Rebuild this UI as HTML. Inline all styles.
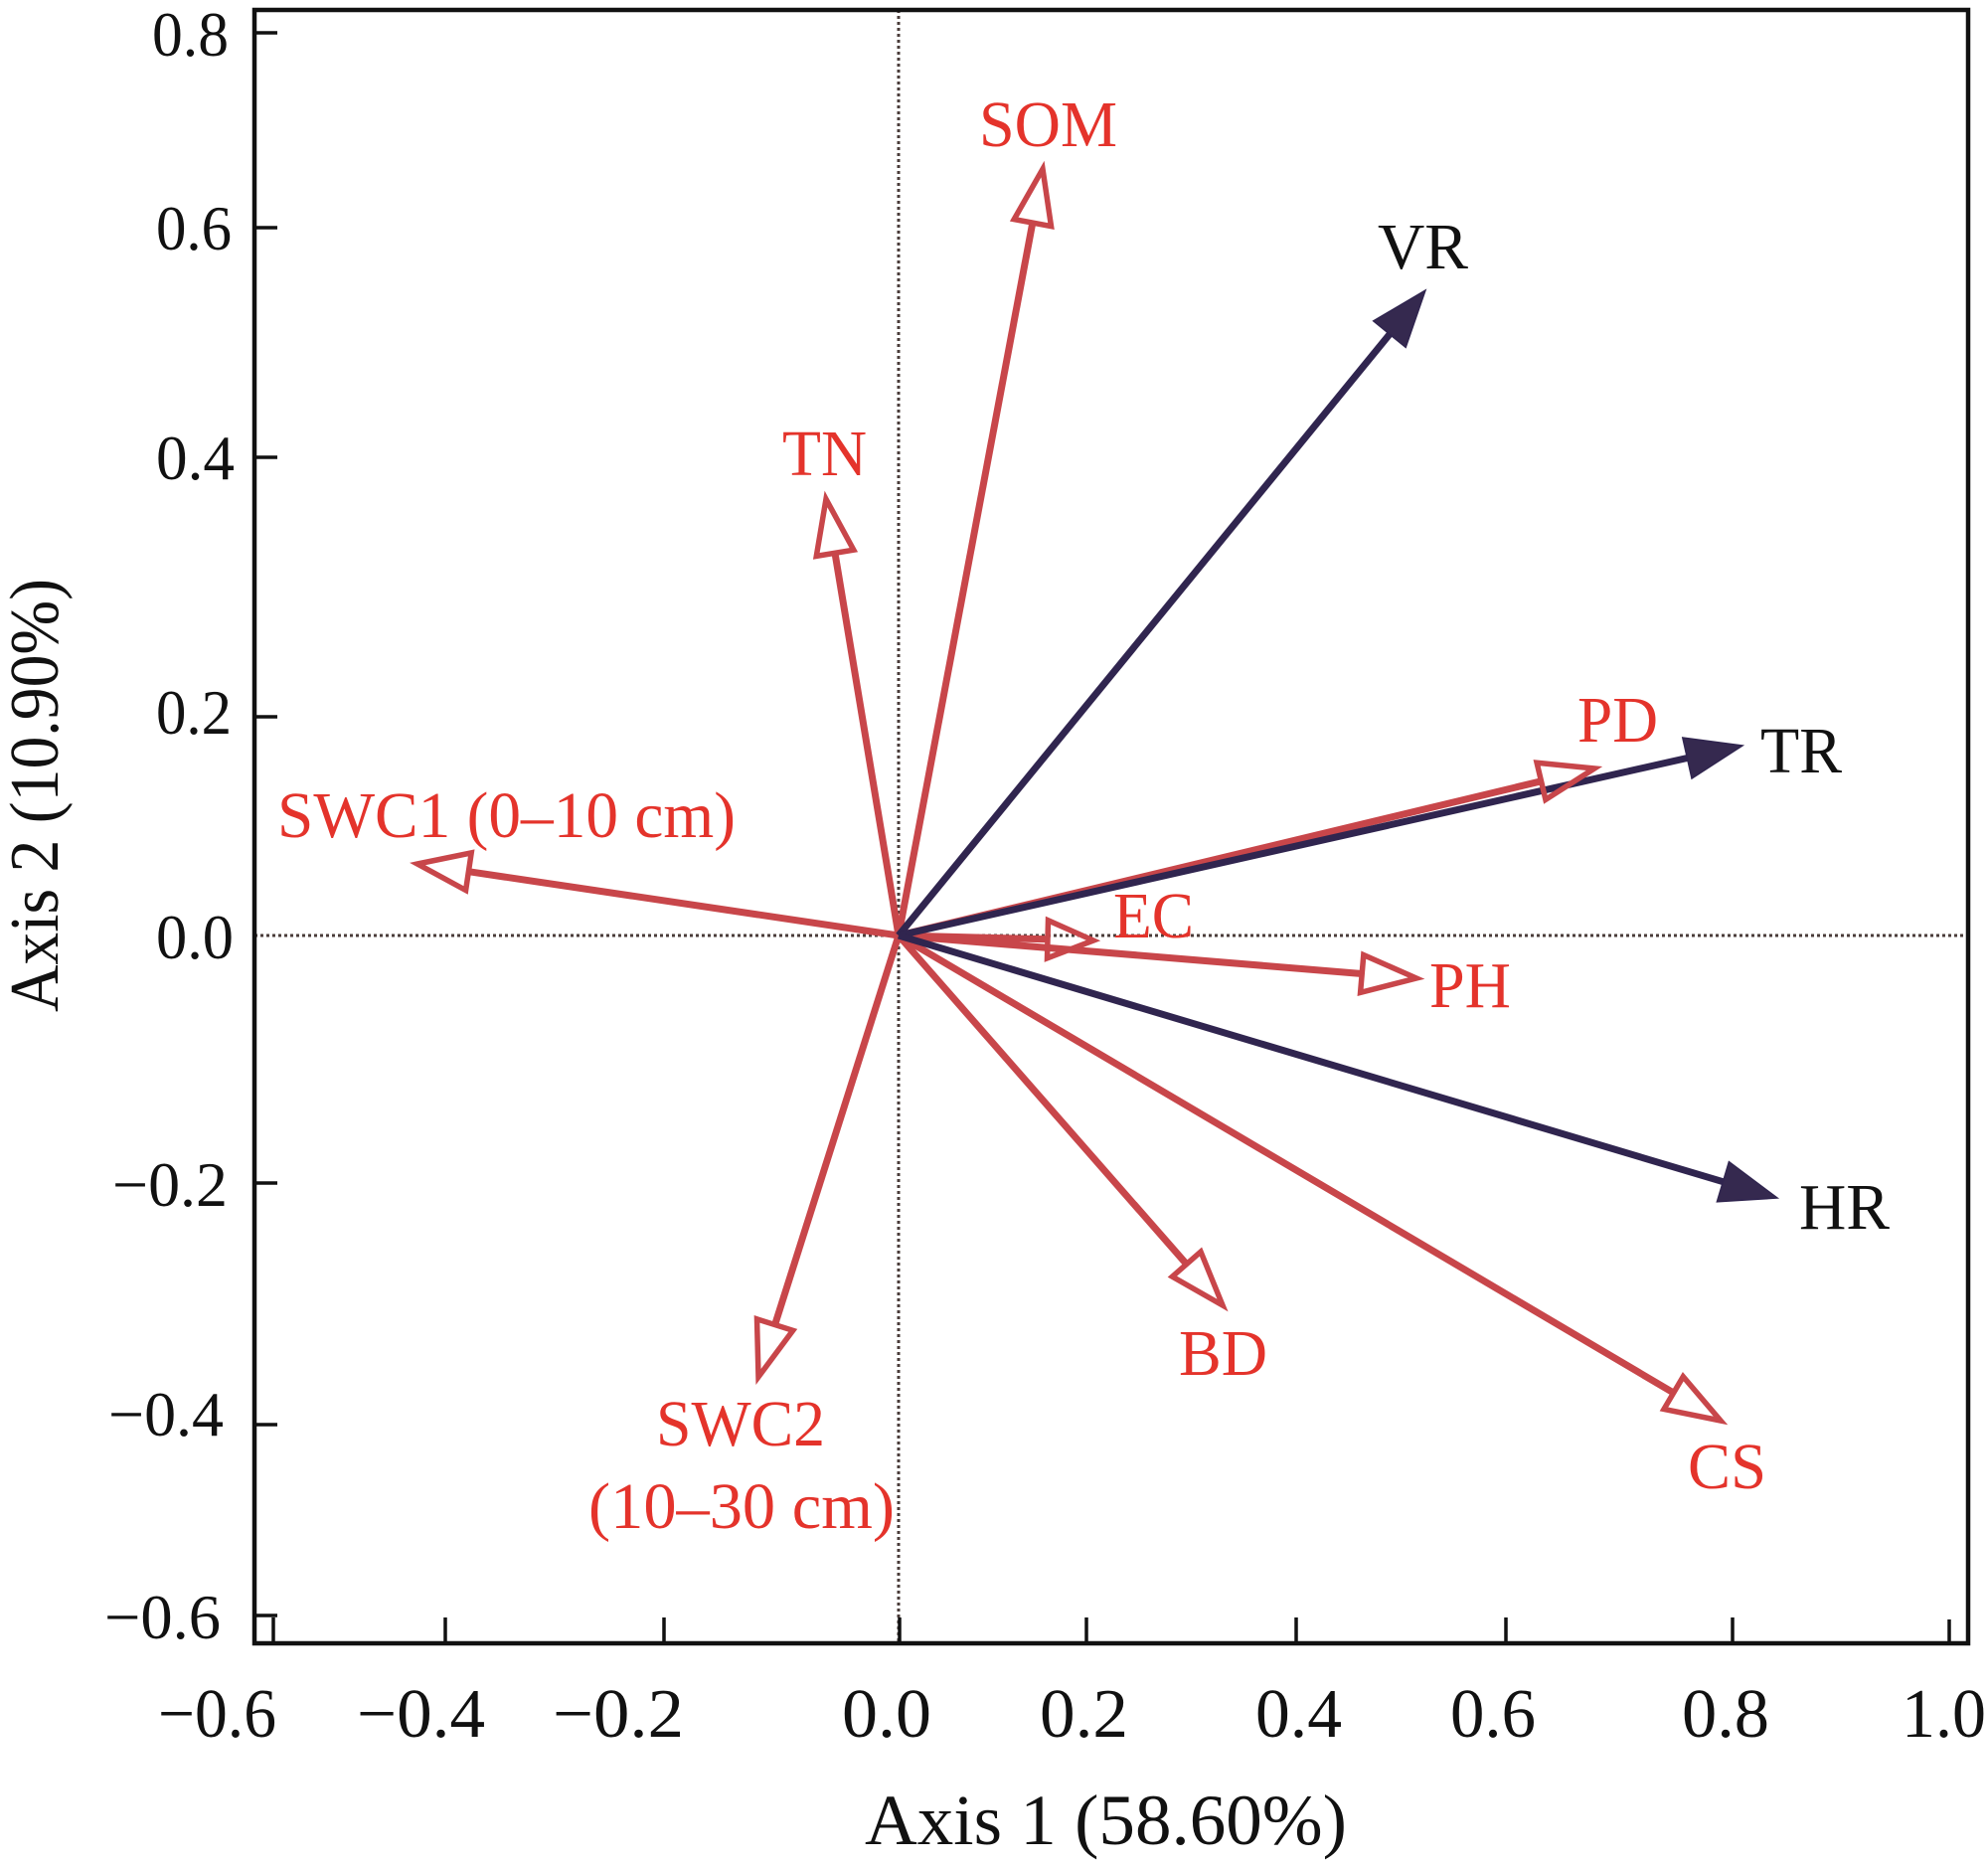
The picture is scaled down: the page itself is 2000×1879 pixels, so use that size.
<!DOCTYPE html>
<html><head><meta charset="utf-8"><style>
html,body{margin:0;padding:0;background:#fff;}
svg{display:block;}
text{font-family:"Liberation Serif","Times New Roman",Times,serif;}
</style></head><body>
<svg width="2000" height="1879" viewBox="0 0 2000 1879" xmlns="http://www.w3.org/2000/svg">
<rect width="2000" height="1879" fill="#fff"/>
<!-- dotted zero lines -->
<line x1="904" y1="10" x2="904" y2="1653" stroke="#4a3c3a" stroke-width="3" stroke-dasharray="3 3"/>
<line x1="256" y1="941" x2="1980" y2="941" stroke="#4a3c3a" stroke-width="3" stroke-dasharray="3 3"/>

<!-- frame -->
<rect x="256" y="10" width="1724" height="1643" fill="none" stroke="#111" stroke-width="4.5"/>
<!-- y ticks -->
<g stroke="#111" stroke-width="3.5">
<line x1="256" y1="33" x2="279" y2="33"/>
<line x1="256" y1="229" x2="279" y2="229"/>
<line x1="256" y1="460" x2="279" y2="460"/>
<line x1="256" y1="721" x2="279" y2="721"/>
<line x1="256" y1="1190" x2="279" y2="1190"/>
<line x1="256" y1="1433" x2="279" y2="1433"/>
<line x1="256" y1="1625" x2="279" y2="1625"/>
<!-- x ticks -->
<line x1="275" y1="1653" x2="275" y2="1627"/>
<line x1="448" y1="1653" x2="448" y2="1627"/>
<line x1="668" y1="1653" x2="668" y2="1627"/>
<line x1="905" y1="1653" x2="905" y2="1627"/>
<line x1="1093" y1="1653" x2="1093" y2="1627"/>
<line x1="1304" y1="1653" x2="1304" y2="1627"/>
<line x1="1515" y1="1653" x2="1515" y2="1627"/>
<line x1="1743" y1="1653" x2="1743" y2="1627"/>
<line x1="1961" y1="1653" x2="1961" y2="1629"/>
</g>

<!-- y tick labels -->
<g fill="#111" font-size="64">
<text x="153" y="56" textLength="77" lengthAdjust="spacingAndGlyphs">0.8</text>
<text x="157" y="251" textLength="76" lengthAdjust="spacingAndGlyphs">0.6</text>
<text x="157" y="482" textLength="79" lengthAdjust="spacingAndGlyphs">0.4</text>
<text x="157" y="738" textLength="76" lengthAdjust="spacingAndGlyphs">0.2</text>
<text x="157" y="964" textLength="78" lengthAdjust="spacingAndGlyphs">0.0</text>
<text x="113" y="1213" textLength="116" lengthAdjust="spacingAndGlyphs">−0.2</text>
<text x="109" y="1444" textLength="116" lengthAdjust="spacingAndGlyphs">−0.4</text>
<text x="105" y="1648" textLength="117" lengthAdjust="spacingAndGlyphs">−0.6</text>
</g>
<!-- x tick labels -->
<g fill="#111" font-size="70">
<text x="159" y="1747" textLength="119" lengthAdjust="spacingAndGlyphs">−0.6</text>
<text x="359" y="1747" textLength="129" lengthAdjust="spacingAndGlyphs">−0.4</text>
<text x="556" y="1747" textLength="132" lengthAdjust="spacingAndGlyphs">−0.2</text>
<text x="847" y="1747" textLength="90" lengthAdjust="spacingAndGlyphs">0.0</text>
<text x="1046" y="1747" textLength="89" lengthAdjust="spacingAndGlyphs">0.2</text>
<text x="1263" y="1747" textLength="87" lengthAdjust="spacingAndGlyphs">0.4</text>
<text x="1459" y="1747" textLength="86" lengthAdjust="spacingAndGlyphs">0.6</text>
<text x="1692" y="1747" textLength="88" lengthAdjust="spacingAndGlyphs">0.8</text>
<text x="1913" y="1747" textLength="85" lengthAdjust="spacingAndGlyphs">1.0</text>
</g>
<!-- axis titles -->
<text x="870" y="1855" font-size="72" fill="#111" textLength="485" lengthAdjust="spacingAndGlyphs">Axis 1 (58.60%)</text>
<text transform="translate(58,1018) rotate(-90)" x="0" y="0" font-size="70" fill="#111" textLength="436" lengthAdjust="spacingAndGlyphs">Axis 2 (10.90%)</text>

<!-- red shafts -->
<g stroke="#c8464a" stroke-width="7" fill="none" stroke-linecap="butt">
<line x1="904" y1="941" x2="1038.8" y2="224.1"/>
<line x1="904" y1="941" x2="840.0" y2="556.3"/>
<line x1="904" y1="941" x2="471.4" y2="876.7"/>
<line x1="904" y1="941" x2="1054.0" y2="944.8"/>
<line x1="904" y1="941" x2="1550.5" y2="785.8"/>
<line x1="904" y1="941" x2="1370.2" y2="979.5"/>
<line x1="904" y1="941" x2="1193.7" y2="1271.6"/>
<line x1="904" y1="941" x2="1683.6" y2="1401.0"/>
<line x1="904" y1="941" x2="779.6" y2="1332.6"/>
</g>
<!-- navy shafts -->
<g stroke="#30254f" stroke-width="7" fill="none">
<line x1="904" y1="941" x2="1398.0" y2="336.2"/>
<line x1="904" y1="941" x2="1697.4" y2="762.5"/>
<line x1="904" y1="941" x2="1733.4" y2="1188.7"/>
</g>
<!-- hollow red heads -->
<g stroke="#c8464a" stroke-width="5.5" fill="none" stroke-linejoin="miter">
<polygon points="1049,170 1057.5,227.6 1020.2,220.6"/>
<polygon points="831,502 858.8,553.2 821.3,559.4"/>
<polygon points="420,869 474.2,857.9 468.6,895.5"/>
<polygon points="1100,946 1053.5,963.8 1054.5,925.8"/>
<polygon points="1604,773 1554.9,804.3 1546.1,767.3"/>
<polygon points="1425,984 1368.6,998.4 1371.8,960.6"/>
<polygon points="1230,1313 1179.4,1284.1 1208.0,1259.1"/>
<polygon points="1731,1429 1674.0,1417.4 1693.3,1384.7"/>
<polygon points="763,1385 761.5,1326.8 797.7,1338.3"/>
</g>
<!-- filled navy heads -->
<g fill="#35294f" stroke="#30254f" stroke-width="1.5">
<polygon points="1434,292 1414.2,349.4 1381.7,322.9"/>
<polygon points="1753,750 1702.0,783.0 1692.8,742.0"/>
<polygon points="1788,1205 1727.4,1208.8 1739.4,1168.6"/>
</g>

<!-- labels -->
<g font-size="66" fill="#e4332b">
<text x="985" y="147" textLength="139" lengthAdjust="spacingAndGlyphs">SOM</text>
<text x="787" y="478" textLength="85" lengthAdjust="spacingAndGlyphs">TN</text>
<text x="1587" y="746" textLength="81" lengthAdjust="spacingAndGlyphs">PD</text>
<text x="279" y="842" textLength="461" lengthAdjust="spacingAndGlyphs">SWC1 (0–10 cm)</text>
<text x="1120" y="943" textLength="81" lengthAdjust="spacingAndGlyphs">EC</text>
<text x="1438" y="1013" textLength="82" lengthAdjust="spacingAndGlyphs">PH</text>
<text x="1186" y="1383" textLength="89" lengthAdjust="spacingAndGlyphs">BD</text>
<text x="660" y="1454" textLength="170" lengthAdjust="spacingAndGlyphs">SWC2</text>
<text x="592" y="1537" textLength="308" lengthAdjust="spacingAndGlyphs">(10–30 cm)</text>
<text x="1698" y="1497" textLength="79" lengthAdjust="spacingAndGlyphs">CS</text>
</g>
<g font-size="66" fill="#111">
<text x="1386" y="270" textLength="91" lengthAdjust="spacingAndGlyphs">VR</text>
<text x="1771" y="777" textLength="82" lengthAdjust="spacingAndGlyphs">TR</text>
<text x="1810" y="1236" textLength="91" lengthAdjust="spacingAndGlyphs">HR</text>
</g>
</svg>
</body></html>
